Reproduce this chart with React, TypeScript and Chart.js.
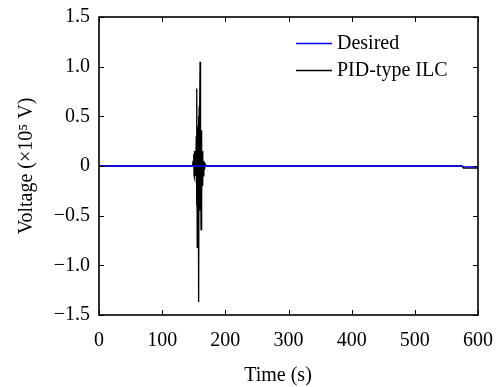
import React, { useEffect, useRef } from "react";
import { Chart, registerables } from "chart.js";

Chart.register(...registerables);

const desiredTime = [0, 574, 578, 600];
const desiredValue = [0, 0, -0.008, -0.008];

const ilcTime = [
  0, 148, 149, 150, 150.5, 151, 151.5, 152, 152.5, 153, 153.5, 154, 154.5, 155, 155.5,
  156, 156.5, 157, 157.5, 158, 158.5, 159, 159.5, 160, 160.5, 161, 161.5, 162, 162.5,
  163, 163.5, 164, 164.5, 165, 166, 167, 168, 170, 574, 577, 600,
];
const ilcValue = [
  0, 0, 0.05, 0.12, -0.1, 0.15, -0.12, 0.1, -0.08, 0.15, -0.1, 0.3, -0.4, 0.78, -0.82,
  0.4, -0.5, 0.35, 0.5, -1.37, 0.6, -0.45, 0.5, 1.05, -0.4, 0.3, -0.64, 0.2, 0.36,
  -0.3, 0.15, -0.2, 0.1, -0.1, 0.05, -0.04, 0.02, 0, 0, -0.02, -0.02,
];

const seriesLabels = ["Desired", "PID-type ILC"];
const seriesColors = ["#0000ff", "#000000"];
const xTickValues = [0, 100, 200, 300, 400, 500, 600];
const yTickValues = [-1.5, -1.0, -0.5, 0, 0.5, 1.0, 1.5];
const xTitle = "Time (s)";
const yTitle = "Voltage (\u00d710\u2075 V)";

const FONT = "'Liberation Serif', 'Times New Roman', serif";

function fmtY(v: number): string {
  if (Math.abs(v) < 1e-9) return "0";
  const s = Math.abs(v).toFixed(1);
  return (v < 0 ? "\u2212" : "") + s;
}

const framePlugin = {
  id: "frameTicks",
  afterDatasetsDraw(chart: any) {
    const { ctx, chartArea } = chart;
    const { left, right, top, bottom } = chartArea;
    const xs = chart.scales.x;
    const ys = chart.scales.y;
    const tl = 5;
    ctx.save();
    ctx.strokeStyle = "#000";
    ctx.lineWidth = 1;
    ctx.beginPath();
    for (const v of xTickValues) {
      const px = Math.round(xs.getPixelForValue(v)) + 0.5;
      ctx.moveTo(px, bottom);
      ctx.lineTo(px, bottom - tl);
      ctx.moveTo(px, top);
      ctx.lineTo(px, top + tl);
    }
    for (const v of yTickValues) {
      const py = Math.round(ys.getPixelForValue(v)) + 0.5;
      ctx.moveTo(left, py);
      ctx.lineTo(left + tl, py);
      ctx.moveTo(right, py);
      ctx.lineTo(right - tl, py);
    }
    ctx.stroke();
    ctx.lineWidth = 1.6;
    ctx.strokeRect(left, top, right - left, bottom - top);

    // x-axis title
    ctx.fillStyle = "#000";
    ctx.font = `20px ${FONT}`;
    ctx.textAlign = "center";
    ctx.textBaseline = "middle";
    ctx.fillText(xTitle, 278, 376);

    // legend inside the plot
    ctx.textBaseline = "middle";
    ctx.textAlign = "left";
    const lx0 = 296;
    const lx1 = 332;
    const rows = [43, 70];
    chart.data.datasets.forEach((ds: any, i: number) => {
      const y = rows[i];
      ctx.strokeStyle = ds.borderColor;
      ctx.lineWidth = 1.3;
      ctx.beginPath();
      ctx.moveTo(lx0, y + 0.5);
      ctx.lineTo(lx1, y + 0.5);
      ctx.stroke();
      ctx.fillStyle = "#000";
      ctx.fillText(ds.label, 337, y + 1);
    });
    ctx.restore();
  },
};

export default function App() {
  const ref = useRef<HTMLCanvasElement | null>(null);
  useEffect(() => {
    document.body.style.margin = "0";
    const canvas = ref.current;
    if (!canvas) return;
    const chart = new Chart(canvas, {
      type: "line",
      data: {
        datasets: [
          {
            label: seriesLabels[0],
            data: desiredTime.map((t, i) => ({ x: t, y: desiredValue[i] })),
            borderColor: seriesColors[0],
            borderWidth: 1.3,
            pointRadius: 0,
            tension: 0,
          },
          {
            label: seriesLabels[1],
            data: ilcTime.map((t, i) => ({ x: t, y: ilcValue[i] })),
            borderColor: seriesColors[1],
            borderWidth: 1.3,
            pointRadius: 0,
            tension: 0,
          },
        ],
      },
      options: {
        responsive: false,
        animation: false,
        devicePixelRatio: 1,
        layout: { padding: { left: 0, top: 17, right: 18, bottom: 0 } },
        plugins: { legend: { display: false }, tooltip: { enabled: false } },
        scales: {
          x: {
            type: "linear",
            min: 0,
            max: 600,
            afterBuildTicks: (s: any) => {
              s.ticks = xTickValues.map((v) => ({ value: v }));
            },
            afterFit: (s: any) => {
              s.height = 72;
              s.paddingLeft = 0;
              s.paddingRight = 0;
            },
            grid: { display: false, drawTicks: false },
            border: { display: false },
            ticks: {
              color: "#000",
              font: { family: FONT, size: 20 },
              padding: 14,
              maxRotation: 0,
              autoSkip: false,
            },
            title: { display: false, text: xTitle },
          },
          y: {
            type: "linear",
            min: -1.5,
            max: 1.5,
            afterBuildTicks: (s: any) => {
              s.ticks = yTickValues.map((v) => ({ value: v }));
            },
            afterFit: (s: any) => {
              s.width = 99;
              s.paddingTop = 0;
              s.paddingBottom = 0;
            },
            grid: { display: false, drawTicks: false },
            border: { display: false },
            ticks: {
              color: "#000",
              font: { family: FONT, size: 20 },
              padding: 9,
              autoSkip: false,
              callback: (v: any) => fmtY(Number(v)),
            },
            title: {
              display: true,
              text: yTitle,
              color: "#000",
              font: { family: FONT, size: 20 },
              padding: { top: 15, bottom: 0 },
            },
          },
        },
      },
      plugins: [framePlugin],
    });
    return () => chart.destroy();
  }, []);
  return (
    <div style={{ position: "relative", width: 496, height: 387, background: "#fff" }}>
      <canvas ref={ref} width={496} height={387} />
    </div>
  );
}
